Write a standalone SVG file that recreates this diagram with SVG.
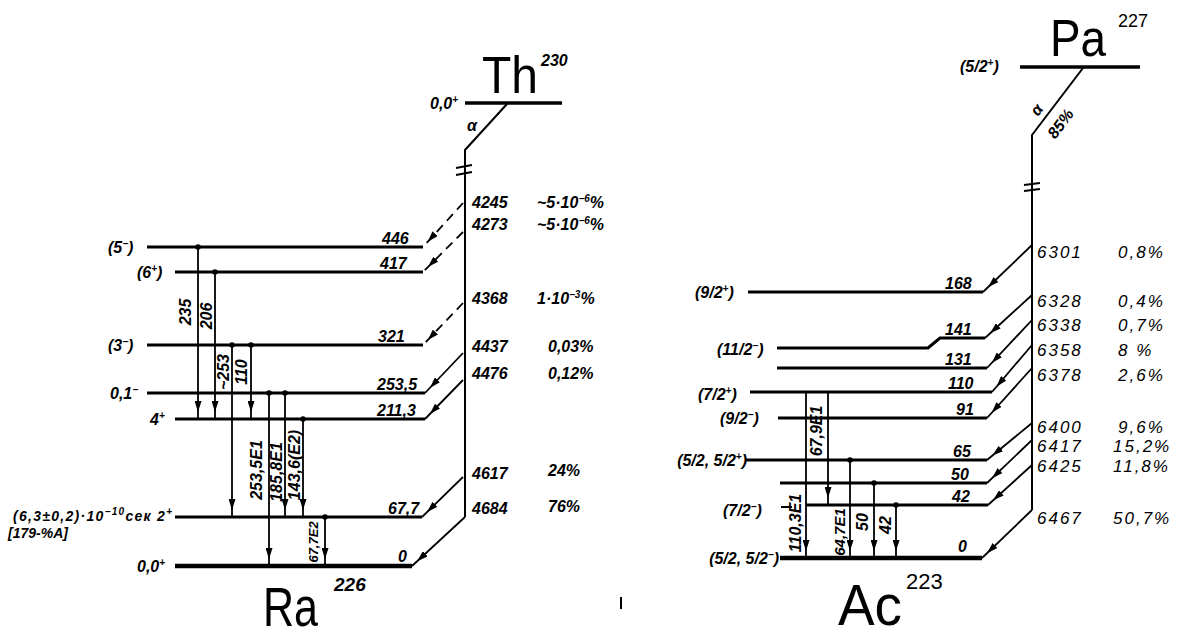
<svg xmlns="http://www.w3.org/2000/svg" width="1181" height="638" viewBox="0 0 1181 638">
<defs>
<marker id="ah" markerUnits="userSpaceOnUse" markerWidth="11" markerHeight="7" refX="18" refY="3.5" orient="auto">
<path d="M0,0 L11,3.5 L0,7 z" fill="#000"/>
</marker>
<style>
.lv{stroke:#000;stroke-width:3;fill:none}
.gr{stroke:#000;stroke-width:4.5;fill:none}
.sp{stroke:#000;stroke-width:2;fill:none}
.dg{stroke:#000;stroke-width:1.8;fill:none;marker-end:url(#ah)}
.ds{stroke-dasharray:9 6}
.tr{stroke:#000;stroke-width:1.8;fill:none;marker-end:url(#ah)}
.br{stroke:#000;stroke-width:2;fill:none}
.h{font-family:"Liberation Sans",Arial,sans-serif;font-style:italic;font-weight:bold;font-size:16px;fill:#000}
.s{font-family:"Liberation Sans",Arial,sans-serif;font-style:italic;font-weight:bold;font-size:14px;fill:#000}
.v{font-family:"Liberation Sans",Arial,sans-serif;font-style:italic;font-size:17px;letter-spacing:2px;fill:#000}
.p{font-family:"Liberation Sans",Arial,sans-serif;font-style:italic;font-size:17px;letter-spacing:2px;fill:#000}
.r{font-family:"Liberation Sans",Arial,sans-serif;font-style:italic;font-weight:bold;font-size:16px;fill:#000;text-anchor:middle}
.big{font-family:"Liberation Sans",Arial,sans-serif;fill:#000}
.sup{font-size:10px}
</style>
</defs>
<rect width="1181" height="638" fill="#fff"/>

<!-- ===== Th230 -> Ra226 ===== -->
<g id="th230">
<line class="lv" x1="465" y1="103" x2="562" y2="103" style="stroke-width:3.5"/>
<text class="big" x="482" y="93" font-size="52" textLength="56" lengthAdjust="spacingAndGlyphs">Th</text>
<text class="h" x="541" y="66">230</text>
<text class="h" x="430" y="109">0,0<tspan class="sup" dy="-6">+</tspan></text>
</g>

<g id="ra226-levels">
<g id="lvl-446"><line class="lv" x1="147" y1="247" x2="423" y2="247"/><text class="h" x="108" y="253">(5<tspan class="sup" dy="-6">−</tspan><tspan dy="6">)</tspan></text><text class="h" x="382" y="244">446</text></g>
<g id="lvl-417"><line class="lv" x1="175" y1="272" x2="423" y2="272"/><text class="h" x="137" y="278">(6<tspan class="sup" dy="-6">+</tspan><tspan dy="6">)</tspan></text><text class="h" x="380" y="269">417</text></g>
<g id="lvl-321"><line class="lv" x1="147" y1="345" x2="423" y2="345"/><text class="h" x="108" y="351">(3<tspan class="sup" dy="-6">−</tspan><tspan dy="6">)</tspan></text><text class="h" x="378" y="342">321</text></g>
<g id="lvl-253"><line class="lv" x1="147" y1="393" x2="425" y2="393"/><text class="h" x="110" y="399">0,1<tspan class="sup" dy="-6">−</tspan></text><text class="h" x="377" y="390">253,5</text></g>
<g id="lvl-211"><line class="lv" x1="175" y1="419" x2="425" y2="419"/><text class="h" x="150" y="425">4<tspan class="sup" dy="-6">+</tspan></text><text class="h" x="377" y="416">211,3</text></g>
<g id="lvl-67"><line class="lv" x1="175" y1="517" x2="422" y2="517"/><text class="s" x="13" y="521" textLength="159" lengthAdjust="spacing">(6,3±0,2)·10<tspan class="sup" dy="-6">−10</tspan><tspan dy="6">сек 2</tspan><tspan class="sup" dy="-6">+</tspan></text><text class="s" x="8" y="538">[179-%A]</text><text class="h" x="388" y="514">67,7</text></g>
<g id="lvl-0"><line class="gr" x1="175" y1="566" x2="412" y2="566"/><text class="h" x="137" y="572">0,0<tspan class="sup" dy="-6">+</tspan></text><text class="h" x="398" y="562">0</text></g>
<text class="big" x="263" y="626" font-size="56" textLength="55" lengthAdjust="spacingAndGlyphs">Ra</text>
<text class="h" x="334" y="591" style="font-size:19px">226</text>
</g>

<g id="th-alpha-values">
<text class="h" x="467" y="131">α</text>
<text class="h" x="472" y="208">4245</text><text class="h" x="537" y="208">~5·10<tspan class="sup" dy="-6">−6</tspan><tspan dy="6">%</tspan></text>
<text class="h" x="472" y="230">4273</text><text class="h" x="537" y="230">~5·10<tspan class="sup" dy="-6">−6</tspan><tspan dy="6">%</tspan></text>
<text class="h" x="472" y="304">4368</text><text class="h" x="537" y="304">1·10<tspan class="sup" dy="-6">−3</tspan><tspan dy="6">%</tspan></text>
<text class="h" x="472" y="352">4437</text><text class="h" x="548" y="352">0,03%</text>
<text class="h" x="472" y="379">4476</text><text class="h" x="548" y="379">0,12%</text>
<text class="h" x="472" y="479">4617</text><text class="h" x="548" y="476">24%</text>
<text class="h" x="472" y="514">4684</text><text class="h" x="548" y="512">76%</text>
</g>

<g id="th-connectors">
<path class="sp" d="M507,104 L465,150 V517"/>
<path class="br" d="M456,168 L472,165 M456,175 L472,172"/>
<path class="dg ds" d="M463,203 L423,247"/>
<path class="dg ds" d="M463,232 L423,272"/>
<path class="dg ds" d="M463,303 L423,345"/>
<path class="dg" d="M463,353 L425,393"/>
<path class="dg" d="M463,380 L425,419"/>
<path class="dg" d="M463,477 L422,517"/>
<path class="dg" d="M465,517 L412,566"/>
<path class="tr" d="M198,247 V419"/><circle cx="198" cy="247" r="2.8"/>
<path class="tr" d="M215,272 V419"/><circle cx="215" cy="272" r="2.8"/>
<path class="tr" d="M232,345 V517"/><circle cx="232" cy="345" r="2.8"/>
<path class="tr" d="M251,345 V419"/><circle cx="251" cy="345" r="2.8"/>
<path class="tr" d="M269,393 V566"/><circle cx="269" cy="393" r="2.8"/>
<path class="tr" d="M285,393 V517"/><circle cx="285" cy="393" r="2.8"/>
<path class="tr" d="M303,419 V517"/><circle cx="303" cy="419" r="2.8"/>
<path class="tr" d="M325,517 V566"/><circle cx="325" cy="517" r="2.8"/>
<text class="r" transform="translate(191,312) rotate(-90)">235</text>
<text class="r" transform="translate(212,316) rotate(-90)">206</text>
<text class="r" transform="translate(229,372) rotate(-90)">~253</text>
<text class="r" transform="translate(247,372) rotate(-90)">110</text>
<text class="r" transform="translate(262,470) rotate(-90)">253,5E1</text>
<text class="r" transform="translate(282,472) rotate(-90)">185,8E1</text>
<text class="r" transform="translate(300,465) rotate(-90)">143,6(E2)</text>
<text class="r" transform="translate(318,542) rotate(-90)" style="font-size:13px">67,7E2</text>
</g>

<!-- ===== Pa227 -> Ac223 ===== -->
<g id="pa227">
<line class="lv" x1="1020" y1="67" x2="1140" y2="67" style="stroke-width:3.5"/>
<text class="big" x="1050" y="56" font-size="52" textLength="56" lengthAdjust="spacingAndGlyphs">Pa</text>
<text class="big" x="1118" y="27" font-size="18">227</text>
<text class="h" x="960" y="72">(5/2<tspan class="sup" dy="-6">+</tspan><tspan dy="6">)</tspan></text>
<text class="h" transform="translate(1041,113) rotate(-53)" text-anchor="middle">α</text>
<text class="h" transform="translate(1065,127) rotate(-53)" text-anchor="middle">85%</text>
</g>

<g id="ac223-levels">
<g id="alvl-168"><line class="lv" x1="748" y1="292" x2="983" y2="292"/><text class="h" x="695" y="298">(9/2<tspan class="sup" dy="-6">+</tspan><tspan dy="6">)</tspan></text><text class="h" x="945" y="289">168</text></g>
<g id="alvl-141"><polyline class="lv" points="777,348 928,348 940,338 985,338"/><text class="h" x="717" y="355">(11/2<tspan class="sup" dy="-6">−</tspan><tspan dy="6">)</tspan></text><text class="h" x="945" y="335">141</text></g>
<g id="alvl-131"><line class="lv" x1="777" y1="368" x2="987" y2="368"/><text class="h" x="945" y="365">131</text></g>
<g id="alvl-110"><line class="lv" x1="750" y1="392" x2="992" y2="392"/><text class="h" x="698" y="400">(7/2<tspan class="sup" dy="-6">+</tspan><tspan dy="6">)</tspan></text><text class="h" x="948" y="389">110</text></g>
<g id="alvl-91"><line class="lv" x1="778" y1="418" x2="987" y2="418"/><text class="h" x="720" y="424">(9/2<tspan class="sup" dy="-6">−</tspan><tspan dy="6">)</tspan></text><text class="h" x="956" y="415">91</text></g>
<g id="alvl-65"><line class="lv" x1="745" y1="460" x2="987" y2="460"/><text class="h" x="747" y="466" text-anchor="end">(5/2, 5/2<tspan class="sup" dy="-6">+</tspan><tspan dy="6">)</tspan></text><text class="h" x="953" y="457">65</text></g>
<g id="alvl-50"><line class="lv" x1="780" y1="483" x2="987" y2="483"/><text class="h" x="951" y="480">50</text></g>
<g id="alvl-42"><line class="lv" x1="806" y1="505" x2="988" y2="505"/><line class="sp" x1="781" y1="507" x2="792" y2="507"/><text class="h" x="723" y="516">(7/2<tspan class="sup" dy="-6">−</tspan><tspan dy="6">)</tspan></text><text class="h" x="952" y="502">42</text></g>
<g id="alvl-0"><line class="gr" x1="780" y1="558" x2="982" y2="558"/><text class="h" x="779" y="564" text-anchor="end">(5/2, 5/2<tspan class="sup" dy="-6">−</tspan><tspan dy="6">)</tspan></text><text class="h" x="958" y="552">0</text></g>
<text class="big" x="838" y="625" font-size="58" textLength="64" lengthAdjust="spacingAndGlyphs">Ac</text>
<text class="big" x="906" y="589" font-size="22">223</text>
</g>

<g id="pa-alpha-values">
<text class="v" x="1037" y="258">6301</text><text class="p" x="1118" y="258">0,8%</text>
<text class="v" x="1037" y="307">6328</text><text class="p" x="1118" y="307">0,4%</text>
<text class="v" x="1037" y="331">6338</text><text class="p" x="1118" y="331">0,7%</text>
<text class="v" x="1037" y="356">6358</text><text class="p" x="1118" y="356">8 %</text>
<text class="v" x="1037" y="381">6378</text><text class="p" x="1118" y="381">2,6%</text>
<text class="v" x="1037" y="433">6400</text><text class="p" x="1118" y="433">9,6%</text>
<text class="v" x="1037" y="452">6417</text><text class="p" x="1113" y="452">15,2%</text>
<text class="v" x="1037" y="472">6425</text><text class="p" x="1113" y="472">11,8%</text>
<text class="v" x="1037" y="524">6467</text><text class="p" x="1113" y="524">50,7%</text>
</g>

<g id="pa-connectors">
<path class="sp" d="M1083,68 L1032,135 V510"/>
<path class="br" d="M1024,185 L1040,183 M1024,191 L1040,189"/>
<path class="dg" d="M1032,245 L983,292"/>
<path class="dg" d="M1032,295 L985,338"/>
<path class="dg" d="M1032,320 L987,368"/>
<path class="dg" d="M1032,345 L992,392"/>
<path class="dg" d="M1032,368 L987,418"/>
<path class="dg" d="M1032,423 L987,460"/>
<path class="dg" d="M1032,440 L987,483"/>
<path class="dg" d="M1032,465 L988,505"/>
<path class="dg" d="M1032,510 L982,558"/>
<path class="tr" d="M806,392 V558"/>
<path class="tr" d="M828,392 V505"/>
<path class="tr" d="M850,460 V558"/><circle cx="850" cy="460" r="2.8"/>
<path class="tr" d="M874,483 V558"/><circle cx="874" cy="483" r="2.8"/>
<path class="tr" d="M896,505 V558"/><circle cx="896" cy="505" r="2.8"/>
<text class="r" transform="translate(801,523) rotate(-90)">110,3E1</text>
<text class="r" transform="translate(822,431) rotate(-90)">67,9E1</text>
<text class="r" transform="translate(845,532) rotate(-90)" style="font-size:15px">64,7E1</text>
<text class="r" transform="translate(868,522) rotate(-90)">50</text>
<text class="r" transform="translate(891,525) rotate(-90)">42</text>
</g>

<line x1="621" y1="597" x2="621" y2="609" stroke="#000" stroke-width="2"/>
</svg>
